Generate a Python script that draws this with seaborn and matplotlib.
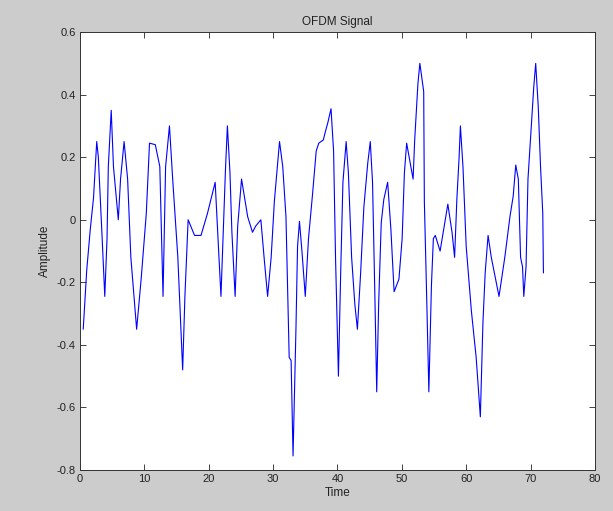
import numpy as np
import pandas as pd
import matplotlib
matplotlib.use("Agg")
import matplotlib.pyplot as plt
import seaborn as sns

# OFDM signal, values
time = [0.5, 1.05, 1.6, 2.1, 2.6, 2.85, 3.4, 3.85, 4.2, 4.4, 4.85, 5.2, 5.95, 6.3,
        6.85, 7.4, 7.9, 8.8, 9.5, 10.3, 10.8, 11.7, 12.4, 12.9, 13.3, 13.9, 14.4,
        15.2, 15.95, 16.3, 16.8, 17.8, 18.8, 19.8, 21.0, 21.5, 21.9, 22.3, 22.6,
        22.9, 23.3, 23.6, 24.1, 24.5, 25.1, 26.05, 26.8, 27.3, 28.1, 28.6, 29.15,
        29.7, 30.2, 31.0, 31.5, 32.0, 32.5, 32.8, 33.1, 33.55, 33.8, 34.1, 34.5,
        35.0, 35.5, 36.1, 36.7, 37.1, 37.8, 38.1, 38.5, 39.0, 39.4, 39.7, 40.15,
        40.5, 40.85, 41.35, 41.7, 42.2, 42.7, 43.1, 43.6, 44.1, 44.7, 45.1, 45.45,
        45.8, 46.1, 46.4, 46.8, 47.2, 47.8, 48.3, 48.8, 49.55, 50.05, 50.4, 50.75,
        51.4, 51.75, 52.0, 52.5, 52.8, 53.4, 53.5, 53.9, 54.2, 54.6, 54.9, 55.2,
        55.95, 57.15, 57.8, 58.2, 58.55, 58.9, 59.1, 59.5, 60.0, 60.8, 61.55, 62.2,
        62.6, 62.95, 63.4, 63.9, 65.1, 66.0, 66.8, 67.3, 67.7, 68.1, 68.45, 68.75,
        68.95, 69.3, 69.6, 70.15, 70.5, 70.8, 71.2, 71.55, 71.9, 72.0]

amplitude = [-0.35, -0.16, -0.03, 0.07, 0.25, 0.20, -0.04, -0.245, -0.06, 0.17, 0.35,
             0.17, 0.0, 0.13, 0.25, 0.13, -0.12, -0.35, -0.19, 0.02, 0.245, 0.24, 0.17,
             -0.245, 0.17, 0.30, 0.13, -0.12, -0.48, -0.245, 0.0, -0.05, -0.05, 0.02,
             0.12, -0.085, -0.245, -0.01, 0.16, 0.30, 0.15, -0.04, -0.245, -0.02, 0.13,
             0.01, -0.04, -0.02, 0.0, -0.12, -0.245, -0.12, 0.06, 0.25, 0.17, 0.01,
             -0.44, -0.45, -0.755, -0.35, -0.085, -0.005, -0.105, -0.245, -0.06, 0.075,
             0.22, 0.245, 0.255, 0.28, 0.31, 0.355, 0.22, -0.12, -0.5, -0.17, 0.12,
             0.25, 0.15, -0.12, -0.27, -0.35, -0.17, 0.04, 0.18, 0.25, 0.12, -0.23,
             -0.55, -0.27, -0.01, 0.065, 0.12, -0.03, -0.23, -0.19, -0.06, 0.15, 0.245,
             0.17, 0.13, 0.255, 0.435, 0.5, 0.41, 0.06, -0.28, -0.55, -0.21, -0.06,
             -0.05, -0.1, 0.05, -0.04, -0.12, 0.065, 0.2, 0.30, 0.17, -0.085, -0.29,
             -0.44, -0.63, -0.33, -0.17, -0.05, -0.12, -0.245, -0.12, 0.01, 0.075,
             0.175, 0.13, -0.12, -0.15, -0.245, -0.15, 0.13, 0.31, 0.425, 0.50, 0.36,
             0.17, 0.02, -0.17]

x_ticks = [0, 10, 20, 30, 40, 50, 60, 70, 80]
y_ticks = [-0.8, -0.6, -0.4, -0.2, 0, 0.2, 0.4, 0.6]
y_tick_labels = ["-0.8", "-0.6", "-0.4", "-0.2", "0", "0.2", "0.4", "0.6"]

df = pd.DataFrame({"Time": time, "Amplitude": amplitude})

sns.set_theme(style="white")
plt.rcParams["font.family"] = ["Liberation Sans", "DejaVu Sans"]
plt.rcParams["xtick.direction"] = "in"
plt.rcParams["ytick.direction"] = "in"

fig = plt.figure(figsize=(6.13, 5.11), dpi=100, facecolor="#cccccc")
ax = fig.add_axes([0.1305, 0.0802, 0.840, 0.857])
ax.set_facecolor("white")

sns.lineplot(data=df, x="Time", y="Amplitude", sort=False, estimator=None,
             color="#0000ff", linewidth=0.8, ax=ax)

ax.set_xlim(0, 80)
ax.set_ylim(-0.8, 0.6)
ax.set_xticks(x_ticks)
ax.set_yticks(y_ticks)
ax.set_yticklabels(y_tick_labels)
ax.tick_params(axis="both", which="both", direction="in", length=4, width=0.6,
               top=True, right=True, bottom=True, left=True,
               labelsize=8, colors="#222222", pad=3)
for s in ax.spines.values():
    s.set_visible(True)
    s.set_color("#333333")
    s.set_linewidth(0.7)

ax.set_title("OFDM Signal", fontsize=8.5, color="#222222", pad=5)
ax.set_xlabel("Time", fontsize=8.5, color="#222222", labelpad=2)
ax.set_ylabel("Amplitude", fontsize=8.5, color="#222222", labelpad=4)

fig.savefig("out.png", dpi=100, facecolor=fig.get_facecolor())
